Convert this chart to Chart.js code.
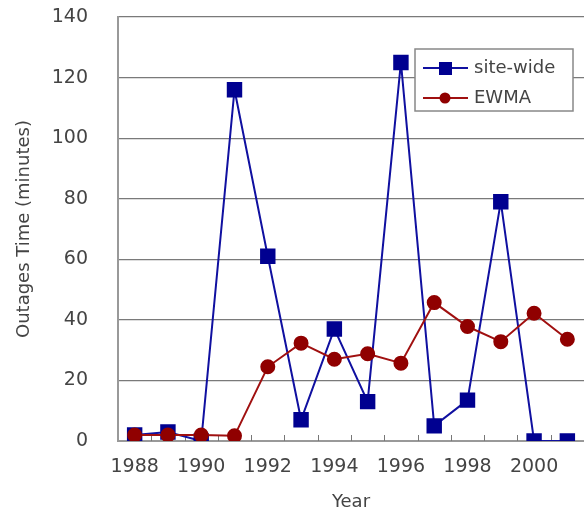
<!DOCTYPE html>
<html>
<head>
<meta charset="utf-8">
<script src="https://cdn.jsdelivr.net/npm/chart.js@4/dist/chart.umd.min.js"></script>
<style>
  html, body { margin: 0; padding: 0; background: #fff; }
  #wrap { width: 584px; height: 513px; }
</style>
</head>
<body>
<div id="wrap"><canvas id="outageChart"></canvas></div>
<script>
const years = ["1988", "1989", "1990", "1991", "1992", "1993", "1994",
               "1995", "1996", "1997", "1998", "1999", "2000", "2001"];
const siteWide = [2, 3, 0, 116, 61, 7, 37, 13, 125, 5, 13.5, 79, 0, 0];
const ewma = [2, 2, 2, 1.7, 24.5, 32.3, 27, 28.8, 25.7, 45.7, 37.8, 32.8, 42.2, 33.6];
const yTicks = [0, 20, 40, 60, 80, 100, 120, 140];

const FONT = "'DejaVu Sans', sans-serif";
const TEXT = "#444";

// small tick marks between categories, pointing into the plot
const innerTicks = {
    id: "innerTicks",
    beforeDatasetsDraw(chart) {
        const x = chart.scales.x;
        const ctx = chart.ctx;
        const bottom = chart.chartArea.bottom;
        ctx.save();
        ctx.strokeStyle = "#777";
        ctx.lineWidth = 1;
        for (let i = 0; i < years.length - 1; i++) {
            const px = Math.round((x.getPixelForValue(i) + x.getPixelForValue(i + 1)) / 2) + 0.5;
            ctx.beginPath();
            ctx.moveTo(px, bottom);
            ctx.lineTo(px, bottom - 6);
            ctx.stroke();
        }
        ctx.restore();
    },
};

// boxed legend inside the plot, top right
const boxLegend = {
    id: "boxLegend",
    afterDraw(chart) {
        const ctx = chart.ctx;
        const area = chart.chartArea;
        const left = area.right - 169, top = area.top + 32;
        const w = 158, h = 62;
        ctx.save();
        ctx.fillStyle = "#fff";
        ctx.fillRect(left, top, w, h);
        ctx.strokeStyle = "#888";
        ctx.lineWidth = 1.5;
        ctx.strokeRect(left, top, w, h);
        chart.data.datasets.forEach((ds, i) => {
            const cy = top + 19 + i * 30;
            ctx.strokeStyle = ds.borderColor;
            ctx.lineWidth = 2;
            ctx.beginPath();
            ctx.moveTo(left + 8, cy);
            ctx.lineTo(left + 53, cy);
            ctx.stroke();
            ctx.fillStyle = ds.pointBackgroundColor;
            if (ds.pointStyle === "rect") {
                ctx.fillRect(left + 24, cy - 6, 13, 13);
            } else {
                ctx.beginPath();
                ctx.arc(left + 30, cy, 5.5, 0, Math.PI * 2);
                ctx.fill();
            }
            ctx.fillStyle = TEXT;
            ctx.font = "18px " + FONT;
            ctx.textBaseline = "middle";
            ctx.fillText(ds.label, left + 59, cy);
        });
        ctx.restore();
    },
};

new Chart(document.getElementById("outageChart"), {
    type: "line",
    data: {
        labels: years,
        datasets: [
            {
                label: "site-wide",
                data: siteWide,
                borderColor: "#1010a0",
                backgroundColor: "#000090",
                pointBackgroundColor: "#000090",
                pointBorderColor: "#000090",
                pointStyle: "rect",
                pointRadius: 9.5,
                borderWidth: 2,
                tension: 0,
                order: 1,
            },
            {
                label: "EWMA",
                data: ewma,
                borderColor: "#a01010",
                backgroundColor: "#900000",
                pointBackgroundColor: "#900000",
                pointBorderColor: "#900000",
                pointStyle: "circle",
                pointRadius: 6.5,
                borderWidth: 2,
                tension: 0,
                order: 0,
            },
        ],
    },
    options: {
        responsive: true,
        maintainAspectRatio: false,
        animation: false,
        layout: { autoPadding: false, padding: { top: 17, right: 0, bottom: 0, left: 0 } },
        plugins: {
            legend: { display: false },
            tooltip: { enabled: false },
        },
        scales: {
            x: {
                type: "category",
                offset: true,
                afterFit: (s) => {
                    s.height = 72;
                    s.paddingLeft = 0;
                    s.paddingRight = 0;
                },
                grid: { display: false, drawTicks: false },
                border: { display: true, color: "#999", width: 2 },
                ticks: {
                    autoSkip: false,
                    maxRotation: 0,
                    padding: 15,
                    color: TEXT,
                    font: { family: FONT, size: 19 },
                    callback: function (value, index) {
                        return index % 2 === 0 ? this.getLabelForValue(value) : "";
                    },
                },
                title: {
                    display: true,
                    text: "Year",
                    color: TEXT,
                    font: { family: FONT, size: 18 },
                    padding: { top: 0, bottom: 0 },
                },
            },
            y: {
                min: 0,
                max: 140,
                afterFit: (s) => {
                    s.width = 118;
                    s.paddingTop = 0;
                    s.paddingBottom = 0;
                },
                afterBuildTicks: (s) => { s.ticks = yTicks.map((v) => ({ value: v })); },
                grid: { color: "#7a7a7a", lineWidth: 1.2, drawTicks: false },
                border: { display: true, color: "#999", width: 2 },
                ticks: {
                    padding: 30,
                    color: TEXT,
                    font: { family: FONT, size: 19 },
                },
                title: {
                    display: true,
                    text: "Outages Time (minutes)",
                    color: TEXT,
                    font: { family: FONT, size: 18 },
                    padding: { top: 14, bottom: 0 },
                },
            },
        },
    },
    plugins: [innerTicks, boxLegend],
});
</script>
</body>
</html>
